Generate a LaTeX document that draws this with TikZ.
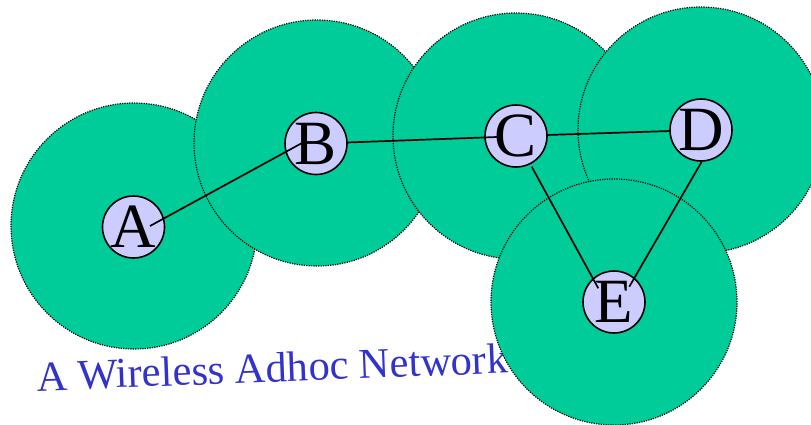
\documentclass[tikz,border=0pt]{standalone}
\usepackage{fontspec}
\setmainfont{Liberation Serif}
\usetikzlibrary{calc}
\definecolor{rangegreen}{HTML}{00CC99}
\definecolor{nodelav}{HTML}{CCCCFF}
\definecolor{captionblue}{HTML}{3333CC}
\tikzset{
  coverage/.style={circle, fill=rangegreen, draw=black, line width=1.2pt,
    dash pattern=on 1.2pt off 1.2pt, minimum size=246pt, inner sep=0pt},
  station/.style={circle, fill=nodelav, draw=black, line width=1.6pt,
    minimum size=62pt, inner sep=0pt, font=\fontsize{63}{63}\selectfont},
  link/.style={line width=1.7pt, black}
}
\begin{document}
\begin{tikzpicture}[x=1pt,y=-1pt]
\useasboundingbox (0,0) rectangle (811,424);
% coverage ranges
\node[coverage] (rA) at (134,226) {};
\node[coverage] (rB) at (317,143) {};
\node[coverage] (rC) at (516,136) {};
\node[coverage] (rD) at (701,130) {};
\node[anchor=base west, rotate=2.2, inner sep=0pt, text=captionblue,
  font=\fontsize{42.5}{42.5}\selectfont] (cap) at (37,391) {A Wireless Adhoc Network};
\node[coverage] (rE) at (614,302) {};
% stations
\node[station] (A) at (133.5,227) {A};
\node[station] (B) at (316,143.5) {B};
\node[station] (C) at (516,136) {C};
\node[station] (D) at (701,130) {D};
\node[station] (E) at (614,302) {E};
% links
\draw[link] ($(A)+(16.5,-1)$) -- ($(B)+(-14,-0.5)$);
\draw[link] ($(B)+(31,-1)$) -- ($(C)+(-19,1)$);
\draw[link] ($(C)+(30.7,-1)$) -- ($(D)+(-31,1)$);
\draw[link] ($(C)+(15.7,30.7)$) -- ($(E)+(-15.7,-13.7)$);
\draw[link] ($(D)+(0.7,31.7)$) -- ($(E)+(15.3,-15.3)$);
\end{tikzpicture}
\end{document}
